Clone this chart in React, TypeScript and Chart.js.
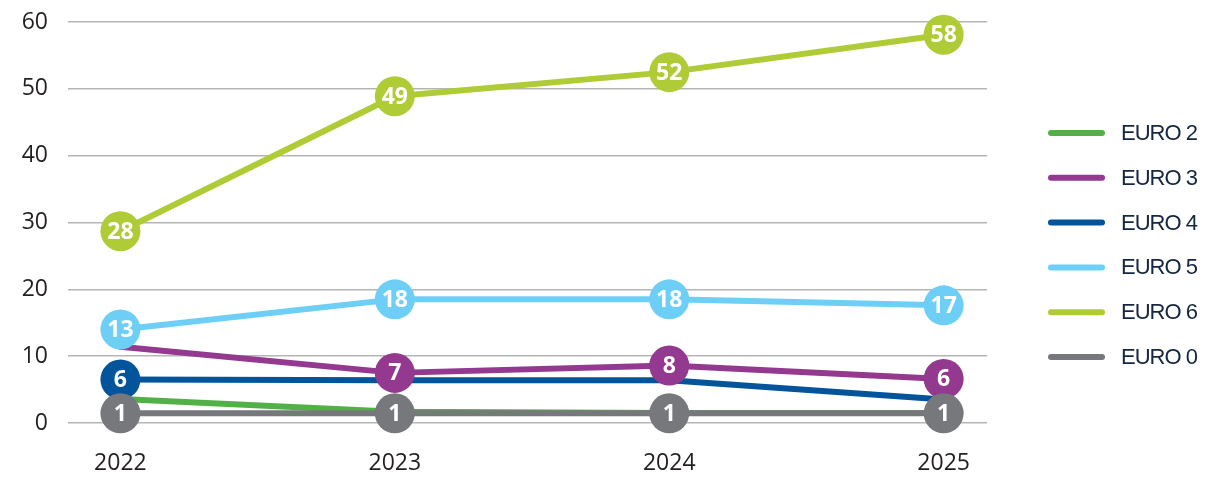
import React, { useEffect, useRef } from "react";
import { Chart, registerables } from "chart.js";

Chart.register(...registerables);

const YEARS = [2022, 2023, 2024, 2025];
const SERIES_NAMES = ["EURO 2", "EURO 3", "EURO 4", "EURO 5", "EURO 6", "EURO 0"];
const SERIES_COLORS = ["#52b146", "#93398f", "#03549a", "#6dcff6", "#afcb36", "#77787b"];
const SERIES_ORDER = [5, 3, 4, 2, 1, 0];

const EURO2 = [3.6, 1.7, 1.5, 1.5];
const EURO3 = [11.4, 7.5, 8.6, 6.6];
const EURO4 = [6.5, 6.4, 6.4, 3.5];
const EURO5 = [14.0, 18.5, 18.5, 17.6];
const EURO6 = [28.7, 48.9, 52.5, 58.1];
const EURO0 = [1.45, 1.45, 1.45, 1.45];

const EURO2_LABELS: (string | null)[] = [null, null, null, null];
const EURO3_LABELS: (string | null)[] = [null, "7", "8", "6"];
const EURO4_LABELS: (string | null)[] = ["6", null, null, null];
const EURO5_LABELS: (string | null)[] = ["13", "18", "18", "17"];
const EURO6_LABELS: (string | null)[] = ["28", "49", "52", "58"];
const EURO0_LABELS: (string | null)[] = ["1", "1", "1", "1"];

const Y_MIN = 0;
const Y_MAX = 60;
const Y_STEP = 10;

const SERIES_VALUES = [EURO2, EURO3, EURO4, EURO5, EURO6, EURO0];
const SERIES_LABELS = [EURO2_LABELS, EURO3_LABELS, EURO4_LABELS, EURO5_LABELS, EURO6_LABELS, EURO0_LABELS];

const bubblePlugin = {
  id: "bubbles",
  afterDatasetDraw(chart: any, args: any) {
    const idx = args.index;
    const labels = SERIES_LABELS[idx];
    const color = SERIES_COLORS[idx];
    const ctx = chart.ctx;
    const meta = args.meta;
    ctx.save();
    meta.data.forEach((pt: any, i: number) => {
      const lab = labels[i];
      if (lab == null) return;
      ctx.beginPath();
      ctx.arc(pt.x, pt.y, 20, 0, Math.PI * 2);
      ctx.fillStyle = color;
      ctx.fill();
      ctx.fillStyle = "#ffffff";
      ctx.font = "bold 23px 'Open Sans'";
      ctx.textAlign = "center";
      ctx.textBaseline = "middle";
      ctx.fillText(lab, pt.x, pt.y + 1);
    });
    ctx.restore();
  },
};

const legendPlugin = {
  id: "customLegend",
  afterDraw(chart: any) {
    const ctx = chart.ctx;
    ctx.save();
    SERIES_NAMES.forEach((name, i) => {
      const y = 133 + i * 44.8;
      ctx.beginPath();
      ctx.lineCap = "round";
      ctx.lineWidth = 6;
      ctx.strokeStyle = SERIES_COLORS[i];
      ctx.moveTo(1051, y);
      ctx.lineTo(1102, y);
      ctx.stroke();
      ctx.fillStyle = "#142640";
      ctx.font = "22px 'Liberation Sans'";
      (ctx as any).letterSpacing = "-1px";
      ctx.textAlign = "left";
      ctx.textBaseline = "middle";
      ctx.fillText(name, 1121, y + 1);
    });
    ctx.restore();
  },
};

export default function App() {
  const ref = useRef<HTMLCanvasElement | null>(null);
  useEffect(() => {
    document.body.style.margin = "0";
    if (!ref.current) return;
    const chart = new Chart(ref.current, {
      type: "line",
      data: {
        datasets: SERIES_NAMES.map((name, i) => ({
          label: name,
          data: YEARS.map((x, j) => ({ x, y: SERIES_VALUES[i][j] })),
          borderColor: SERIES_COLORS[i],
          backgroundColor: SERIES_COLORS[i],
          borderWidth: 6,
          borderCapStyle: "round" as const,
          borderJoinStyle: "round" as const,
          pointRadius: 0,
          pointHoverRadius: 0,
          tension: 0,
          order: SERIES_ORDER[i],
        })),
      },
      options: {
        animation: false,
        responsive: false,
        events: [],
        layout: { padding: { left: 0, right: 218, top: 22, bottom: 0 } },
        plugins: { legend: { display: false }, tooltip: { enabled: false } },
        scales: {
          x: {
            type: "linear",
            min: 2021.809,
            max: 2025.158,
            afterBuildTicks: (s: any) => {
              s.ticks = YEARS.map((v) => ({ value: v }));
            },
            afterFit: (s: any) => {
              s.height = 55;
              s.paddingLeft = 0;
              s.paddingRight = 0;
            },
            grid: { display: false, drawTicks: false },
            border: { display: false },
            ticks: {
              padding: 27,
              color: "#231f20",
              font: { family: "'Open Sans'", size: 23 },
              callback: (v: any) => String(v),
            },
          },
          y: {
            min: Y_MIN,
            max: Y_MAX,
            afterFit: (s: any) => {
              s.width = 68;
              s.paddingTop = 0;
              s.paddingBottom = 0;
            },
            grid: { color: "#b5b5b5", lineWidth: 1.5, drawTicks: false },
            border: { display: false },
            ticks: {
              stepSize: Y_STEP,
              padding: 20,
              color: "#231f20",
              font: { family: "'Open Sans'", size: 23 },
            },
          },
        },
      },
      plugins: [bubblePlugin, legendPlugin],
    });
    return () => chart.destroy();
  }, []);
  return (
    <div style={{ width: 1205, height: 478 }}>
      <canvas ref={ref} width={1205} height={478} />
    </div>
  );
}
